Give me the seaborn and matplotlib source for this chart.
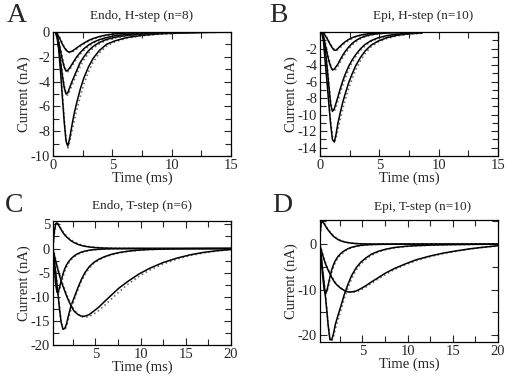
import matplotlib
matplotlib.use("Agg")
import matplotlib.pyplot as plt
from matplotlib.ticker import MultipleLocator
import seaborn as sns

# ---- panel A: Endo, H-step ----
t_A = [0.0, 0.2, 0.35, 0.5, 0.65, 0.8, 0.95, 1.1, 1.25, 1.4, 1.6, 1.8, 2.0, 2.3,
       2.6, 3.0, 3.4, 3.9, 4.5, 5.2, 6.2, 7.5, 9.0, 11.0, 13.0, 15.0]
A_fit_1 = [0, 0, -0.2, -1.6, -3.4, -5.4, -7.3, -8.8, -9.2, -8.6, -7.5, -6.5, -5.7, -4.6,
           -3.7, -2.8, -2.1, -1.5, -1.0, -0.72, -0.45, -0.27, -0.15, -0.07, -0.03, -0.01]
A_dat_1 = [0, 0, -0.1, -1.2, -3.0, -5.0, -7.0, -8.7, -9.35, -8.9, -8.0, -7.1, -6.3, -5.2,
           -4.2, -3.2, -2.4, -1.7, -1.15, -0.8, -0.5, -0.3, -0.17, -0.08, -0.04, -0.02]
A_fit_2 = [0, 0, -0.5, -1.4, -2.5, -3.6, -4.5, -5.0, -4.9, -4.5, -4.0, -3.55, -3.1, -2.45,
           -2.0, -1.5, -1.15, -0.85, -0.6, -0.43, -0.28, -0.17, -0.1, -0.05, -0.02, -0.01]
A_dat_2 = [0, 0, -0.3, -1.1, -2.2, -3.3, -4.3, -5.0, -5.1, -4.8, -4.3, -3.85, -3.4, -2.75,
           -2.25, -1.7, -1.3, -0.95, -0.68, -0.48, -0.31, -0.19, -0.11, -0.05, -0.03, -0.01]
A_fit_3 = [0, 0, -0.35, -0.9, -1.6, -2.3, -2.85, -3.15, -3.1, -2.9, -2.6, -2.3, -2.0, -1.65,
           -1.35, -1.05, -0.82, -0.62, -0.45, -0.3, -0.19, -0.11, -0.06, -0.03, -0.01, 0]
A_dat_3 = [0, 0, -0.2, -0.7, -1.4, -2.1, -2.7, -3.1, -3.2, -3.05, -2.75, -2.45, -2.15, -1.8,
           -1.5, -1.15, -0.9, -0.68, -0.5, -0.34, -0.21, -0.12, -0.07, -0.03, -0.01, 0]
A_fit_4 = [0, 0, -0.15, -0.4, -0.7, -1.0, -1.25, -1.45, -1.58, -1.62, -1.55, -1.42, -1.28, -1.08,
           -0.9, -0.68, -0.52, -0.37, -0.24, -0.15, -0.08, -0.04, -0.02, -0.01, 0, 0]
A_dat_4 = [0, 0, -0.1, -0.3, -0.6, -0.9, -1.2, -1.42, -1.58, -1.66, -1.62, -1.5, -1.36, -1.15,
           -0.96, -0.74, -0.57, -0.41, -0.27, -0.17, -0.09, -0.05, -0.02, -0.01, 0, 0]

# ---- panel B: Epi, H-step ----
t_B = [0.0, 0.15, 0.3, 0.45, 0.6, 0.75, 0.9, 1.05, 1.2, 1.35, 1.5, 1.7, 1.9, 2.1,
       2.4, 2.7, 3.0, 3.4, 3.8, 4.3, 4.9, 5.6, 6.5, 7.5, 8.6]
B_fit_1 = [0, 0, -1.2, -3.8, -6.2, -8.8, -11.2, -13.0, -13.3, -12.4, -11.1, -9.8, -8.6, -7.6,
           -6.2, -5.1, -4.1, -3.1, -2.3, -1.6, -1.1, -0.7, -0.4, -0.22, -0.12]
B_dat_1 = [0, 0, -0.8, -3.2, -5.8, -8.4, -10.8, -12.6, -13.4, -12.9, -11.9, -10.6, -9.4, -8.3,
           -6.9, -5.7, -4.6, -3.5, -2.6, -1.8, -1.2, -0.8, -0.45, -0.25, -0.14]
B_fit_2 = [0, 0, -0.6, -2.3, -4.3, -6.6, -8.8, -9.6, -9.3, -8.6, -7.9, -6.9, -6.0, -5.2,
           -4.2, -3.4, -2.75, -2.05, -1.5, -1.05, -0.7, -0.45, -0.25, -0.13, -0.07]
B_dat_2 = [0, 0, -0.4, -1.9, -3.9, -6.2, -8.4, -9.5, -9.6, -9.1, -8.4, -7.4, -6.5, -5.7,
           -4.6, -3.7, -3.0, -2.25, -1.65, -1.15, -0.78, -0.5, -0.28, -0.15, -0.08]
B_fit_3 = [0, 0, -0.6, -1.6, -2.6, -3.5, -4.2, -4.6, -4.5, -4.2, -3.9, -3.35, -2.85, -2.4,
           -1.85, -1.4, -1.05, -0.72, -0.5, -0.32, -0.2, -0.12, -0.06, -0.03, -0.01]
B_dat_3 = [0, 0, -0.4, -1.3, -2.3, -3.2, -4.0, -4.5, -4.7, -4.5, -4.15, -3.65, -3.15, -2.7,
           -2.1, -1.6, -1.2, -0.83, -0.58, -0.38, -0.23, -0.14, -0.07, -0.04, -0.02]
B_fit_4 = [0, 0, -0.15, -0.45, -0.8, -1.2, -1.6, -1.95, -2.2, -2.2, -2.0, -1.72, -1.45, -1.2,
           -0.92, -0.7, -0.54, -0.38, -0.27, -0.18, -0.11, -0.06, -0.03, -0.01, 0]
B_dat_4 = [0, 0, -0.1, -0.35, -0.7, -1.1, -1.5, -1.85, -2.1, -2.25, -2.15, -1.9, -1.6, -1.35,
           -1.05, -0.8, -0.6, -0.43, -0.3, -0.2, -0.12, -0.07, -0.03, -0.01, 0]

# ---- panels C and D share a time grid ----
t_T = [0.3, 0.45, 0.6, 0.75, 0.9, 1.05, 1.2, 1.4, 1.6, 1.8, 2.0, 2.3, 2.6, 3.0, 3.4, 3.8,
       4.3, 4.8, 5.4, 6.0, 6.8, 7.6, 8.6, 9.8, 11.0, 12.5, 14.0, 15.5, 17.0, 18.5, 20.0]

# ---- panel C: Endo, T-step ----
C_fit_1 = [0.5, 3.5, 5.2, 5.3, 4.9, 4.4, 3.9, 3.3, 2.8, 2.4, 2.05, 1.6, 1.25, 0.9, 0.65, 0.47,
           0.32, 0.22, 0.14, 0.09, 0.05, 0.03, 0.02, 0.01, 0, 0, 0, 0, 0, 0, 0]
C_dat_1 = [0.3, 3.0, 5.0, 5.4, 5.1, 4.6, 4.1, 3.5, 3.0, 2.6, 2.25, 1.8, 1.42, 1.05, 0.77, 0.57,
           0.4, 0.28, 0.18, 0.12, 0.07, 0.04, 0.02, 0.01, 0, 0, 0, 0, 0, 0, 0]
C_fit_2 = [-0.5, -4.0, -7.5, -9.1, -8.9, -7.9, -6.7, -5.3, -4.2, -3.4, -2.8, -2.1, -1.6, -1.1,
           -0.78, -0.55, -0.36, -0.24, -0.15, -0.1, -0.06, -0.04, -0.02, -0.01, 0, 0, 0, 0, 0, 0, 0]
C_dat_2 = [-0.3, -3.4, -7.0, -9.0, -9.2, -8.4, -7.3, -5.9, -4.7, -3.8, -3.1, -2.35, -1.8, -1.25,
           -0.9, -0.65, -0.43, -0.29, -0.18, -0.12, -0.07, -0.04, -0.02, -0.01, 0, 0, 0, 0, 0, 0, 0]
C_fit_3 = [-0.3, -2.5, -5.0, -7.6, -10.3, -13.0, -15.3, -16.7, -16.6, -15.6, -14.0, -11.8, -10.4,
           -8.4, -6.6, -5.1, -3.8, -2.9, -2.2, -1.7, -1.2, -0.85, -0.55, -0.33, -0.2, -0.12,
           -0.07, -0.04, -0.02, -0.01, 0]
C_dat_3 = [-0.2, -2.2, -4.6, -7.2, -9.9, -12.6, -15.0, -16.7, -16.9, -16.1, -14.7, -12.6, -10.9,
           -8.9, -7.0, -5.5, -4.1, -3.1, -2.35, -1.8, -1.3, -0.92, -0.6, -0.37, -0.22, -0.13,
           -0.08, -0.05, -0.03, -0.01, 0]
C_fit_4 = [-0.2, -1.4, -2.6, -3.7, -4.8, -5.8, -6.7, -7.8, -8.8, -9.8, -10.7, -11.9, -12.9, -13.6,
           -14.0, -14.05, -13.7, -13.0, -12.1, -11.0, -9.6, -8.2, -6.8, -5.3, -4.1, -2.9, -2.0,
           -1.3, -0.8, -0.45, -0.2]
C_dat_4 = [-0.1, -1.1, -2.3, -3.4, -4.5, -5.5, -6.4, -7.5, -8.5, -9.5, -10.4, -11.6, -12.6, -13.5,
           -14.1, -14.3, -14.1, -13.6, -12.8, -11.8, -10.4, -9.0, -7.4, -5.8, -4.5, -3.2, -2.2,
           -1.45, -0.9, -0.5, -0.25]

# ---- panel D: Epi, T-step ----
D_fit_1 = [2.0, 5.0, 4.9, 4.5, 4.0, 3.5, 3.1, 2.6, 2.1, 1.7, 1.4, 1.0, 0.72, 0.48, 0.32, 0.21,
           0.12, 0.07, 0.04, 0.02, 0.01, 0, 0, 0, 0, 0, 0, 0, 0, 0, 0]
D_dat_1 = [1.8, 4.6, 5.0, 4.7, 4.2, 3.7, 3.25, 2.75, 2.25, 1.85, 1.5, 1.1, 0.8, 0.54, 0.36, 0.24,
           0.14, 0.08, 0.05, 0.03, 0.01, 0, 0, 0, 0, 0, 0, 0, 0, 0, 0]
D_fit_2 = [-0.5, -3.5, -7.0, -9.8, -10.9, -10.3, -9.0, -7.2, -5.6, -4.5, -3.6, -2.7, -2.05, -1.45,
           -1.0, -0.7, -0.45, -0.28, -0.16, -0.1, -0.05, -0.03, -0.01, 0, 0, 0, 0, 0, 0, 0, 0]
D_dat_2 = [-0.3, -3.0, -6.5, -9.5, -10.9, -10.6, -9.5, -7.8, -6.2, -5.0, -4.0, -3.0, -2.3, -1.6,
           -1.1, -0.78, -0.5, -0.32, -0.19, -0.12, -0.06, -0.03, -0.01, 0, 0, 0, 0, 0, 0, 0, 0]
D_fit_3 = [-0.5, -3.0, -6.0, -8.6, -11.5, -14.5, -17.8, -21.0, -21.0, -19.6, -17.6, -15.6, -13.7,
           -11.0, -8.8, -6.9, -5.2, -4.0, -3.0, -2.2, -1.55, -1.1, -0.72, -0.48, -0.33, -0.22,
           -0.15, -0.1, -0.06, -0.03, -0.02]
D_dat_3 = [-0.3, -2.6, -5.6, -8.2, -11.1, -14.1, -17.4, -20.7, -21.3, -20.3, -18.6, -16.6, -14.6,
           -11.9, -9.6, -7.6, -5.7, -4.4, -3.3, -2.45, -1.7, -1.2, -0.8, -0.52, -0.35, -0.24,
           -0.16, -0.1, -0.06, -0.04, -0.02]
D_fit_4 = [-0.3, -1.4, -2.4, -3.4, -4.3, -5.0, -5.7, -6.5, -7.3, -8.0, -8.6, -9.2, -9.7, -10.2,
           -10.5, -10.5, -10.3, -9.8, -9.1, -8.3, -7.3, -6.3, -5.3, -4.3, -3.4, -2.6, -1.95,
           -1.45, -1.0, -0.65, -0.35]
D_dat_4 = [-0.2, -1.1, -2.1, -3.1, -4.0, -4.8, -5.5, -6.3, -7.1, -7.8, -8.4, -9.1, -9.6, -10.1,
           -10.45, -10.6, -10.5, -10.1, -9.4, -8.6, -7.6, -6.6, -5.5, -4.5, -3.6, -2.75, -2.05,
           -1.5, -1.05, -0.7, -0.4]

titles = ["Endo, H-step (n=8)", "Epi, H-step (n=10)", "Endo, T-step (n=6)", "Epi, T-step (n=10)"]
letters = ["A", "B", "C", "D"]

sns.set_style("ticks")
plt.rcParams["font.family"] = ["Liberation Serif", "DejaVu Serif"]
plt.rcParams["axes.unicode_minus"] = False

fig = plt.figure(figsize=(5.12, 3.79), dpi=100)
W, H = 512.0, 379.0


def add_axes(x0, x1, y0, y1):
    return fig.add_axes([x0 / W, 1 - y1 / H, (x1 - x0) / W, (y1 - y0) / H])


axA = add_axes(53, 231, 32, 156)
axB = add_axes(320, 498, 32, 156)
axC = add_axes(53, 231, 221, 345)
axD = add_axes(320, 498, 220, 342)

panels = [
    (axA, t_A, [(A_fit_1, A_dat_1), (A_fit_2, A_dat_2), (A_fit_3, A_dat_3), (A_fit_4, A_dat_4)]),
    (axB, t_B, [(B_fit_1, B_dat_1), (B_fit_2, B_dat_2), (B_fit_3, B_dat_3), (B_fit_4, B_dat_4)]),
    (axC, t_T, [(C_fit_1, C_dat_1), (C_fit_2, C_dat_2), (C_fit_3, C_dat_3), (C_fit_4, C_dat_4)]),
    (axD, t_T, [(D_fit_1, D_dat_1), (D_fit_2, D_dat_2), (D_fit_3, D_dat_3), (D_fit_4, D_dat_4)]),
]

for ax, t, curves in panels:
    for fit, dat in curves:
        sns.lineplot(x=t, y=dat, ax=ax, color="0.45", lw=1.2, linestyle=":",
                     sort=False, estimator=None)
        sns.lineplot(x=t, y=fit, ax=ax, color="black", lw=1.1,
                     sort=False, estimator=None)

# axis limits / ticks
axA.set_xlim(0, 15)
axA.set_ylim(-10, 0)
axA.set_xticks([0, 5, 10, 15])
axA.set_yticks([0, -2, -4, -6, -8, -10])
axA.yaxis.set_minor_locator(MultipleLocator(1))

axB.set_xlim(0, 15)
axB.set_ylim(-15, 0)
axB.set_xticks([0, 5, 10, 15])
axB.set_yticks([-2, -4, -6, -8, -10, -12, -14])
axB.yaxis.set_minor_locator(MultipleLocator(1))

axC.set_xlim(0.3, 20)
axC.set_ylim(-20, 5.7)
axC.set_xticks([5, 10, 15, 20])
axC.set_yticks([5, 0, -5, -10, -15, -20])
axC.yaxis.set_minor_locator(MultipleLocator(2.5))

axD.set_xlim(0.3, 20)
axD.set_ylim(-21.5, 5.3)
axD.set_xticks([5, 10, 15, 20])
axD.set_yticks([0, -10, -20])
axD.yaxis.set_minor_locator(MultipleLocator(5))

for ax in (axA, axB, axC, axD):
    ax.xaxis.set_minor_locator(MultipleLocator(2.5))
    ax.tick_params(which="both", direction="in", top=True, right=True,
                   labelsize=10.5, width=0.8, pad=2)
    ax.tick_params(which="major", length=5)
    ax.tick_params(which="minor", length=4)
    for s in ax.spines.values():
        s.set_linewidth(0.9)
        s.set_color("black")
    ax.set_xlabel("Time (ms)", fontsize=10.5, labelpad=0)
    ax.set_ylabel("Current (nA)", fontsize=10.5, labelpad=0)

# titles and panel letters
title_pos = [(142, 16), (423, 16), (142, 206), (423, 207)]
letter_pos = [(17, 15), (278, 15), (14, 205), (282, 205)]
for txt, (x, y) in zip(titles, title_pos):
    fig.text(x / W, 1 - y / H, txt, ha="center", va="center", fontsize=9.5)
for txt, (x, y) in zip(letters, letter_pos):
    fig.text(x / W, 1 - y / H, txt, ha="center", va="center", fontsize=20)

fig.savefig("out.png", dpi=100)
